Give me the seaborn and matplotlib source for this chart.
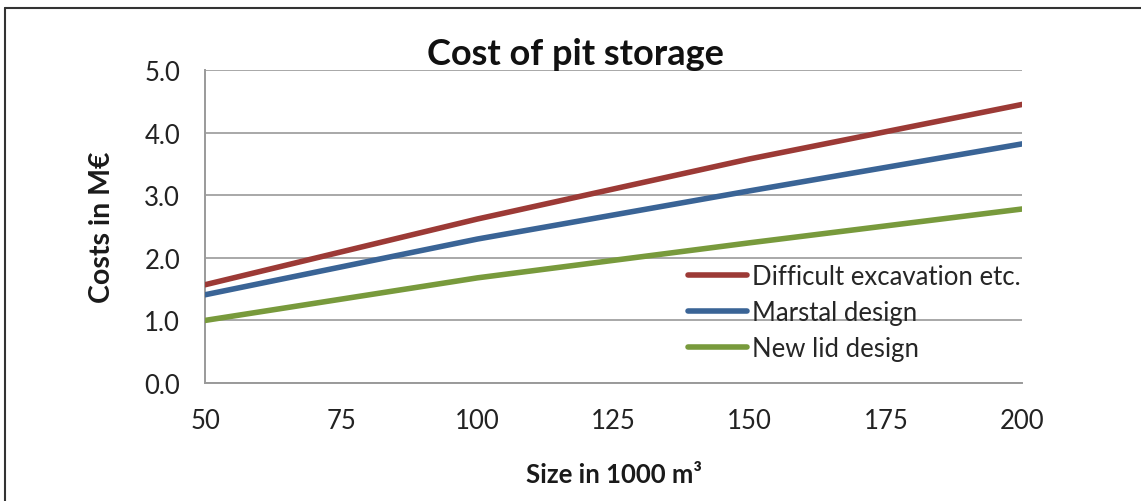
import matplotlib
matplotlib.use("Agg")
import matplotlib.pyplot as plt
from matplotlib.lines import Line2D
import pandas as pd
import seaborn as sns

# ── Data ─────────────────────────────────────────────────────────────────────
SIZES = [50, 100, 150, 200]                      # 1000 m³
DIFFICULT = [1.57, 2.62, 3.58, 4.45]             # M€
MARSTAL = [1.41, 2.30, 3.07, 3.82]
NEW_LID = [1.00, 1.68, 2.24, 2.78]
SERIES_NAMES = ["Difficult excavation etc.", "Marstal design", "New lid design"]
X_TICKS = [50, 75, 100, 125, 150, 175, 200]
Y_TICKS = [0.0, 1.0, 2.0, 3.0, 4.0, 5.0]

COLORS = {
    "Difficult excavation etc.": "#9C3A36",
    "Marstal design": "#3A6496",
    "New lid design": "#789A3C",
}

sns.set_theme(style="white")
plt.rcParams["font.family"] = ["Lato", "DejaVu Sans"]

rows = []
for name, vals in zip(SERIES_NAMES, [DIFFICULT, MARSTAL, NEW_LID]):
    for x, y in zip(SIZES, vals):
        rows.append({"Size": x, "Cost": y, "Series": name})
df = pd.DataFrame(rows)

fig = plt.figure(figsize=(11.41, 5.02), dpi=100)
ax = fig.add_axes([0.1797, 0.235, 0.716, 0.6235])

GRID = "#9a9a9a"
LW = 4.0
sns.lineplot(data=df, x="Size", y="Cost", hue="Series", palette=COLORS,
             linewidth=LW, ax=ax, legend=False, zorder=3,
             solid_capstyle="round")

ax.set_xlim(50, 200)
ax.set_ylim(0, 5)
ax.set_xticks(X_TICKS)
ax.set_yticks(Y_TICKS)
ax.set_yticklabels([f"{v:.1f}" for v in Y_TICKS])
ax.grid(axis="y", color=GRID, linewidth=1.2, zorder=0)
ax.grid(axis="x", visible=False)
for side in ["top", "right"]:
    ax.spines[side].set_visible(False)
for side in ["left", "bottom"]:
    ax.spines[side].set_color(GRID)
    ax.spines[side].set_linewidth(1.4)
ax.tick_params(axis="both", which="major", direction="out", length=6,
               width=1.2, color=GRID, labelsize=18.5, labelcolor="#222222")
ax.tick_params(axis="y", pad=12)
ax.tick_params(axis="x", pad=12)
ax.set_clip_on(False)

ax.set_xlabel("Size in 1000 m³", fontsize=18.5, fontweight="bold", color="#1a1a1a")
ax.set_ylabel("Costs in M€", fontsize=20.5, fontweight="bold", color="#1a1a1a")
ax.xaxis.set_label_coords(0.5, -0.252)
ax.yaxis.set_label_coords(-0.110, 0.5)

fig.text(0.504, 0.892, "Cost of pit storage", ha="center", va="center",
         fontsize=26, fontweight="bold", color="#111111")

handles = [Line2D([0], [0], color=COLORS[n], linewidth=LW,
                  solid_capstyle="round") for n in SERIES_NAMES]
ax.legend(handles, SERIES_NAMES, loc="center left",
          bbox_to_anchor=(0.591, 0.226), frameon=False, fontsize=18.5,
          handlelength=2.3, handletextpad=0.2, labelspacing=0.42,
          borderpad=0, borderaxespad=0)

# frame lines of the original picture (top and left only)
fig.add_artist(Line2D([5 / 1141, 1.0], [1 - 8.5 / 502, 1 - 8.5 / 502],
                      color="#333333", linewidth=1.5, transform=fig.transFigure))
fig.add_artist(Line2D([5 / 1141, 5 / 1141], [0.0, 1 - 8.5 / 502],
                      color="#333333", linewidth=1.5, transform=fig.transFigure))

fig.savefig("out.png", dpi=100, facecolor="white")
